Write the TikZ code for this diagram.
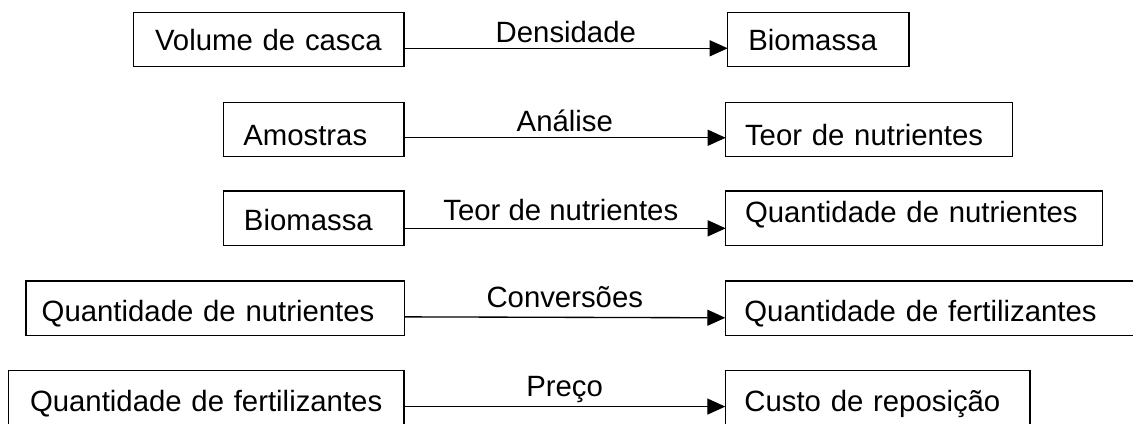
\documentclass[tikz,border=0pt]{standalone}
\usepackage{fontspec}
\setmainfont{Liberation Sans}
\usetikzlibrary{arrows.meta}
\tikzset{
  box/.style={draw, line width=1pt, rectangle, inner sep=0pt, outer sep=0pt,
    anchor=north west, align=left},
  arr/.style={line width=1pt, -{Triangle[length=13.5pt,width=12pt]}},
  lbl/.style={anchor=base, inner sep=0pt}
}
\begin{document}
\begin{tikzpicture}[x=0.75pt,y=-0.75pt,font=\fontsize{22}{26}\selectfont]
\useasboundingbox (0,0) rectangle (1133,424);
% left boxes
\node[box, text width=203.0pt, text height=28.3pt, text depth=12.5pt] (L1) at (133.3,12.3) {\hspace*{16.3pt}Volume de casca};
\node[box, text width=135.5pt, text height=32.6pt, text depth=8.2pt] (L2) at (223.3,102.3) {\hspace*{15pt}Amostras};
\node[box, text width=135.5pt, text height=29.3pt, text depth=11.5pt] (L3) at (223.3,191) {\hspace*{15.5pt}Biomassa};
\node[box, text width=283.7pt, text height=30.5pt, text depth=10.3pt] (L4) at (26,281) {\hspace*{11.8pt}Quantidade de nutrientes};
\node[box, text width=296.8pt, text height=30.8pt, text depth=10pt] (L5) at (8.3,370.7) {\hspace*{16.3pt}Quantidade de fertilizantes};
% right boxes
\node[box, text width=136.0pt, text height=28.8pt, text depth=12.0pt] (R1) at (727.7,12.3) {\hspace*{15.5pt}Biomassa};
\node[box, text width=215.3pt, text height=32.6pt, text depth=8.2pt] (R2) at (725.7,102.3) {\hspace*{14.5pt}Teor de nutrientes};
\node[box, text width=282.5pt, text height=23.3pt, text depth=17.5pt] (R3) at (725.7,191) {\hspace*{14.5pt}Quantidade de nutrientes};
\node[box, text width=315pt, text height=30.5pt, text depth=10.3pt] (R4) at (725.3,281) {\hspace*{14.3pt}Quantidade de fertilizantes};
\node[box, text width=228.5pt, text height=30.8pt, text depth=10pt] (R5) at (725.3,370.7) {\hspace*{14.3pt}Custo de reposição};
% connectors
\draw[arr] ([yshift=-6.6pt]L1.east) -- ([yshift=-6.6pt]R1.west) node[lbl, midway, yshift=4.5pt] {Densidade};
\draw[arr] ([yshift=-6.2pt]L2.east) -- ([yshift=-6.2pt]R2.west) node[lbl, midway, yshift=5pt] {Análise};
\draw[arr] ([yshift=-7.6pt]L3.east) -- ([yshift=-7.6pt]R3.west) node[lbl, midway, yshift=5.5pt, xshift=-3pt] {Teor de nutrientes};
\draw[arr] ([yshift=-6.5pt]L4.east) -- ([yshift=-7.2pt]R4.west) node[lbl, midway, yshift=7.7pt] {Conversões};
\draw[arr] ([yshift=-6.5pt]L5.east) -- ([yshift=-6.5pt]R5.west) node[lbl, midway, yshift=7.5pt] {Preço};
\end{tikzpicture}
\end{document}
